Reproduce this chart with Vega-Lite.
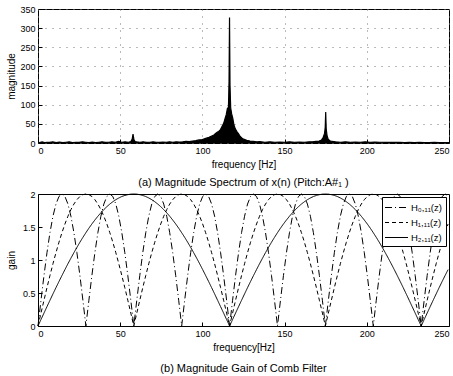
{
  "$schema": "https://vega.github.io/schema/vega-lite/v6.json",
  "background": "white",
  "padding": {"left": 5, "top": 4, "right": 0, "bottom": 0},
  "spacing": 0,
  "resolve": {"legend": {"strokeDash": "independent"}, "scale": {"strokeDash": "independent"}},
  "config": {
    "font": "Liberation Sans",
    "view": {"stroke": "black", "strokeWidth": 1},
    "axis": {
      "labelFont": "Liberation Sans", "labelFontSize": 9, "labelColor": "black",
      "titleFont": "Liberation Sans", "titleFontSize": 10, "titleFontWeight": "normal", "titleColor": "black",
      "domain": false, "tickColor": "black", "tickSize": -4, "labelPadding": 7, "grid": false
    },
    "title": {"font": "Liberation Sans", "fontSize": 11, "fontWeight": "normal", "color": "black"}
  },
  "vconcat": [
    {
      "width": 411, "height": 134,
      "title": {"text": "(a) Magnitude Spectrum of x(n) (Pitch:A#₁ )", "orient": "bottom", "anchor": "middle", "offset": 8},
      "data": {"values": [
        {"f":0,"m":2},{"f":1,"m":1},{"f":2.5,"m":3},{"f":4,"m":1},{"f":5.5,"m":2},{"f":7,"m":1.5},{"f":9,"m":3},{"f":11,"m":1},{"f":13,"m":2.5},{"f":15,"m":1},{"f":17,"m":2},{"f":19,"m":3},{"f":21,"m":1},{"f":23,"m":2},{"f":25,"m":1.5},{"f":27,"m":3},{"f":29,"m":2},{"f":31,"m":1},{"f":33,"m":2.5},{"f":35,"m":1},{"f":37,"m":2},{"f":39,"m":3},{"f":41,"m":1.5},{"f":43,"m":2},{"f":45,"m":3},{"f":47,"m":2},{"f":49,"m":4},{"f":50,"m":3},{"f":51,"m":2},{"f":53,"m":3},{"f":55,"m":2},{"f":56.5,"m":4},{"f":57.3,"m":10},{"f":57.8,"m":23},{"f":58.3,"m":10},{"f":59,"m":4},{"f":60,"m":3},{"f":62,"m":2},{"f":64,"m":3},{"f":66,"m":1.5},{"f":68,"m":2},{"f":70,"m":3},{"f":72,"m":2},{"f":74,"m":1.5},{"f":76,"m":2.5},{"f":78,"m":2},{"f":80,"m":3},{"f":82,"m":2},{"f":84,"m":3},{"f":86,"m":2.5},{"f":88,"m":3},{"f":90,"m":4},{"f":92,"m":3.5},{"f":94,"m":5},{"f":96,"m":6},{"f":98,"m":8},{"f":100,"m":9},{"f":102,"m":12},{"f":104,"m":15},{"f":106,"m":19},{"f":107,"m":21},{"f":108,"m":25},{"f":109,"m":28},{"f":110,"m":31},{"f":111,"m":35},{"f":112,"m":44},{"f":113,"m":52},{"f":113.8,"m":64},{"f":114.5,"m":74},{"f":115.2,"m":90},{"f":115.8,"m":86},{"f":116.2,"m":160},{"f":116.5,"m":328},{"f":116.8,"m":150},{"f":117.2,"m":92},{"f":117.8,"m":76},{"f":118.5,"m":64},{"f":119.2,"m":47},{"f":120,"m":37},{"f":121,"m":30},{"f":122,"m":24},{"f":123,"m":17},{"f":124,"m":13},{"f":125,"m":10},{"f":127,"m":7},{"f":129,"m":5},{"f":131,"m":4},{"f":133,"m":3},{"f":135,"m":3.5},{"f":138,"m":2},{"f":141,"m":3},{"f":144,"m":2},{"f":147,"m":2.5},{"f":150,"m":2},{"f":153,"m":3},{"f":156,"m":2},{"f":159,"m":2.5},{"f":162,"m":2},{"f":165,"m":3},{"f":167,"m":3},{"f":169,"m":4},{"f":171,"m":5},{"f":172.5,"m":8},{"f":173.5,"m":15},{"f":174.3,"m":25},{"f":174.7,"m":40},{"f":175,"m":81},{"f":175.3,"m":38},{"f":175.8,"m":20},{"f":176.5,"m":10},{"f":177.5,"m":6},{"f":179,"m":4},{"f":181,"m":3},{"f":184,"m":2},{"f":187,"m":3},{"f":190,"m":2},{"f":193,"m":2.5},{"f":196,"m":2},{"f":199,"m":3},{"f":202,"m":2},{"f":205,"m":2.5},{"f":208,"m":2},{"f":211,"m":1.5},{"f":214,"m":2},{"f":217,"m":1.5},{"f":220,"m":2},{"f":223,"m":1},{"f":226,"m":1.5},{"f":229,"m":1},{"f":232,"m":1.5},{"f":235,"m":1},{"f":238,"m":1},{"f":241,"m":1.5},{"f":244,"m":1},{"f":247,"m":1},{"f":250,"m":1}
      ]},
      "encoding": {
        "x": {"field": "f", "type": "quantitative", "scale": {"domain": [0, 250], "nice": false},
              "axis": {"values": [0, 50, 100, 150, 200, 250], "title": "frequency [Hz]", "titlePadding": 4,
                       "grid": true, "gridColor": "#777", "gridDash": [1, 6], "gridWidth": 1}},
        "y": {"field": "m", "type": "quantitative", "scale": {"domain": [0, 350], "nice": false},
              "axis": {"values": [0, 50, 100, 150, 200, 250, 300, 350], "title": "magnitude", "titlePadding": 3,
                       "grid": true, "gridColor": "#777", "gridDash": [1, 6], "gridWidth": 1}}
      },
      "layer": [
        {"mark": {"type": "area", "color": "black", "opacity": 1}},
        {"mark": {"type": "line", "color": "black", "strokeWidth": 1.2}}
      ]
    },
    {
      "width": 411, "height": 132,
      "title": {"text": "(b) Magnitude Gain of Comb Filter", "orient": "bottom", "anchor": "middle", "offset": 11},
      "data": {"values": [
        {"f":0,"a":0,"b":0,"c":0},
        {"f":1.82,"a":0.39,"b":0.196,"c":0.098},
        {"f":3.64,"a":0.765,"b":0.39,"c":0.196},
        {"f":5.46,"a":1.111,"b":0.581,"c":0.293},
        {"f":7.28,"a":1.414,"b":0.765,"c":0.39},
        {"f":9.1,"a":1.663,"b":0.943,"c":0.486},
        {"f":10.93,"a":1.848,"b":1.111,"c":0.581},
        {"f":12.75,"a":1.962,"b":1.269,"c":0.674},
        {"f":14.57,"a":2,"b":1.414,"c":0.765},
        {"f":16.39,"a":1.962,"b":1.546,"c":0.855},
        {"f":18.21,"a":1.848,"b":1.663,"c":0.943},
        {"f":20.03,"a":1.663,"b":1.764,"c":1.028},
        {"f":21.85,"a":1.414,"b":1.848,"c":1.111},
        {"f":23.67,"a":1.111,"b":1.914,"c":1.191},
        {"f":25.49,"a":0.765,"b":1.962,"c":1.269},
        {"f":27.31,"a":0.39,"b":1.99,"c":1.343},
        {"f":29.13,"a":0,"b":2,"c":1.414},
        {"f":30.96,"a":0.39,"b":1.99,"c":1.482},
        {"f":32.78,"a":0.765,"b":1.962,"c":1.546},
        {"f":34.6,"a":1.111,"b":1.914,"c":1.606},
        {"f":36.42,"a":1.414,"b":1.848,"c":1.663},
        {"f":38.24,"a":1.663,"b":1.764,"c":1.715},
        {"f":40.06,"a":1.848,"b":1.663,"c":1.764},
        {"f":41.88,"a":1.962,"b":1.546,"c":1.808},
        {"f":43.7,"a":2,"b":1.414,"c":1.848},
        {"f":45.52,"a":1.962,"b":1.269,"c":1.883},
        {"f":47.34,"a":1.848,"b":1.111,"c":1.914},
        {"f":49.16,"a":1.663,"b":0.943,"c":1.94},
        {"f":50.99,"a":1.414,"b":0.765,"c":1.962},
        {"f":52.81,"a":1.111,"b":0.581,"c":1.978},
        {"f":54.63,"a":0.765,"b":0.39,"c":1.99},
        {"f":56.45,"a":0.39,"b":0.196,"c":1.998},
        {"f":58.27,"a":0,"b":0,"c":2},
        {"f":60.09,"a":0.39,"b":0.196,"c":1.998},
        {"f":61.91,"a":0.765,"b":0.39,"c":1.99},
        {"f":63.73,"a":1.111,"b":0.581,"c":1.978},
        {"f":65.55,"a":1.414,"b":0.765,"c":1.962},
        {"f":67.37,"a":1.663,"b":0.943,"c":1.94},
        {"f":69.19,"a":1.848,"b":1.111,"c":1.914},
        {"f":71.02,"a":1.962,"b":1.269,"c":1.883},
        {"f":72.84,"a":2,"b":1.414,"c":1.848},
        {"f":74.66,"a":1.962,"b":1.546,"c":1.808},
        {"f":76.48,"a":1.848,"b":1.663,"c":1.764},
        {"f":78.3,"a":1.663,"b":1.764,"c":1.715},
        {"f":80.12,"a":1.414,"b":1.848,"c":1.663},
        {"f":81.94,"a":1.111,"b":1.914,"c":1.606},
        {"f":83.76,"a":0.765,"b":1.962,"c":1.546},
        {"f":85.58,"a":0.39,"b":1.99,"c":1.482},
        {"f":87.4,"a":0,"b":2,"c":1.414},
        {"f":89.22,"a":0.39,"b":1.99,"c":1.343},
        {"f":91.05,"a":0.765,"b":1.962,"c":1.269},
        {"f":92.87,"a":1.111,"b":1.914,"c":1.191},
        {"f":94.69,"a":1.414,"b":1.848,"c":1.111},
        {"f":96.51,"a":1.663,"b":1.764,"c":1.028},
        {"f":98.33,"a":1.848,"b":1.663,"c":0.943},
        {"f":100.15,"a":1.962,"b":1.546,"c":0.855},
        {"f":101.97,"a":2,"b":1.414,"c":0.765},
        {"f":103.79,"a":1.962,"b":1.269,"c":0.674},
        {"f":105.61,"a":1.848,"b":1.111,"c":0.581},
        {"f":107.43,"a":1.663,"b":0.943,"c":0.486},
        {"f":109.25,"a":1.414,"b":0.765,"c":0.39},
        {"f":111.07,"a":1.111,"b":0.581,"c":0.293},
        {"f":112.9,"a":0.765,"b":0.39,"c":0.196},
        {"f":114.72,"a":0.39,"b":0.196,"c":0.098},
        {"f":116.54,"a":0,"b":0,"c":0},
        {"f":118.36,"a":0.39,"b":0.196,"c":0.098},
        {"f":120.18,"a":0.765,"b":0.39,"c":0.196},
        {"f":122.0,"a":1.111,"b":0.581,"c":0.293},
        {"f":123.82,"a":1.414,"b":0.765,"c":0.39},
        {"f":125.64,"a":1.663,"b":0.943,"c":0.486},
        {"f":127.46,"a":1.848,"b":1.111,"c":0.581},
        {"f":129.28,"a":1.962,"b":1.269,"c":0.674},
        {"f":131.1,"a":2,"b":1.414,"c":0.765},
        {"f":132.93,"a":1.962,"b":1.546,"c":0.855},
        {"f":134.75,"a":1.848,"b":1.663,"c":0.943},
        {"f":136.57,"a":1.663,"b":1.764,"c":1.028},
        {"f":138.39,"a":1.414,"b":1.848,"c":1.111},
        {"f":140.21,"a":1.111,"b":1.914,"c":1.191},
        {"f":142.03,"a":0.765,"b":1.962,"c":1.269},
        {"f":143.85,"a":0.39,"b":1.99,"c":1.343},
        {"f":145.67,"a":0,"b":2,"c":1.414},
        {"f":147.49,"a":0.39,"b":1.99,"c":1.482},
        {"f":149.31,"a":0.765,"b":1.962,"c":1.546},
        {"f":151.13,"a":1.111,"b":1.914,"c":1.606},
        {"f":152.96,"a":1.414,"b":1.848,"c":1.663},
        {"f":154.78,"a":1.663,"b":1.764,"c":1.715},
        {"f":156.6,"a":1.848,"b":1.663,"c":1.764},
        {"f":158.42,"a":1.962,"b":1.546,"c":1.808},
        {"f":160.24,"a":2,"b":1.414,"c":1.848},
        {"f":162.06,"a":1.962,"b":1.269,"c":1.883},
        {"f":163.88,"a":1.848,"b":1.111,"c":1.914},
        {"f":165.7,"a":1.663,"b":0.943,"c":1.94},
        {"f":167.52,"a":1.414,"b":0.765,"c":1.962},
        {"f":169.34,"a":1.111,"b":0.581,"c":1.978},
        {"f":171.16,"a":0.765,"b":0.39,"c":1.99},
        {"f":172.99,"a":0.39,"b":0.196,"c":1.998},
        {"f":174.81,"a":0,"b":0,"c":2},
        {"f":176.63,"a":0.39,"b":0.196,"c":1.998},
        {"f":178.45,"a":0.765,"b":0.39,"c":1.99},
        {"f":180.27,"a":1.111,"b":0.581,"c":1.978},
        {"f":182.09,"a":1.414,"b":0.765,"c":1.962},
        {"f":183.91,"a":1.663,"b":0.943,"c":1.94},
        {"f":185.73,"a":1.848,"b":1.111,"c":1.914},
        {"f":187.55,"a":1.962,"b":1.269,"c":1.883},
        {"f":189.37,"a":2,"b":1.414,"c":1.848},
        {"f":191.19,"a":1.962,"b":1.546,"c":1.808},
        {"f":193.02,"a":1.848,"b":1.663,"c":1.764},
        {"f":194.84,"a":1.663,"b":1.764,"c":1.715},
        {"f":196.66,"a":1.414,"b":1.848,"c":1.663},
        {"f":198.48,"a":1.111,"b":1.914,"c":1.606},
        {"f":200.3,"a":0.765,"b":1.962,"c":1.546},
        {"f":202.12,"a":0.39,"b":1.99,"c":1.482},
        {"f":203.94,"a":0,"b":2,"c":1.414},
        {"f":205.76,"a":0.39,"b":1.99,"c":1.343},
        {"f":207.58,"a":0.765,"b":1.962,"c":1.269},
        {"f":209.4,"a":1.111,"b":1.914,"c":1.191},
        {"f":211.22,"a":1.414,"b":1.848,"c":1.111},
        {"f":213.05,"a":1.663,"b":1.764,"c":1.028},
        {"f":214.87,"a":1.848,"b":1.663,"c":0.943},
        {"f":216.69,"a":1.962,"b":1.546,"c":0.855},
        {"f":218.51,"a":2,"b":1.414,"c":0.765},
        {"f":220.33,"a":1.962,"b":1.269,"c":0.674},
        {"f":222.15,"a":1.848,"b":1.111,"c":0.581},
        {"f":223.97,"a":1.663,"b":0.943,"c":0.486},
        {"f":225.79,"a":1.414,"b":0.765,"c":0.39},
        {"f":227.61,"a":1.111,"b":0.581,"c":0.293},
        {"f":229.43,"a":0.765,"b":0.39,"c":0.196},
        {"f":231.25,"a":0.39,"b":0.196,"c":0.098},
        {"f":233.08,"a":0,"b":0,"c":0},
        {"f":234.9,"a":0.39,"b":0.196,"c":0.098},
        {"f":236.72,"a":0.765,"b":0.39,"c":0.196},
        {"f":238.54,"a":1.111,"b":0.581,"c":0.293},
        {"f":240.36,"a":1.414,"b":0.765,"c":0.39},
        {"f":242.18,"a":1.663,"b":0.943,"c":0.486},
        {"f":244.0,"a":1.848,"b":1.111,"c":0.581},
        {"f":245.82,"a":1.962,"b":1.269,"c":0.674},
        {"f":247.64,"a":2,"b":1.414,"c":0.765},
        {"f":249.46,"a":1.962,"b":1.546,"c":0.855}
      ]},
      "transform": [{"fold": ["a", "b", "c"], "as": ["s", "g"]}],
      "mark": {"type": "line", "color": "black", "strokeWidth": 1},
      "encoding": {
        "x": {"field": "f", "type": "quantitative", "scale": {"domain": [0, 250], "nice": false},
              "axis": {"values": [0, 50, 100, 150, 200, 250], "title": "frequency[Hz]", "titlePadding": 4}},
        "y": {"field": "g", "type": "quantitative", "scale": {"domain": [0, 2], "nice": false},
              "axis": {"values": [0, 0.5, 1, 1.5, 2], "format": "~g", "title": "gain", "titlePadding": 6}},
        "strokeDash": {"field": "s", "type": "nominal",
          "scale": {"domain": ["a", "b", "c"], "range": [[7, 3, 1, 3], [4, 3], [1, 0]]},
          "legend": {"title": null, "orient": "top-right", "offset": 3, "fillColor": "white", "strokeColor": "black",
                     "padding": 4, "symbolType": "M-2,0H2", "symbolSize": 132, "symbolStrokeColor": "black",
                     "symbolFillColor": "transparent", "symbolOffset": 4,
                     "symbolStrokeWidth": 1, "labelFontSize": 9.5, "labelColor": "black", "rowPadding": 4, "labelOffset": 8,
                     "labelExpr": "datum.label == 'a' ? 'H₀,₁₁(z)' : datum.label == 'b' ? 'H₁,₁₁(z)' : 'H₂,₁₁(z)'"}}
      }
    }
  ]
}
